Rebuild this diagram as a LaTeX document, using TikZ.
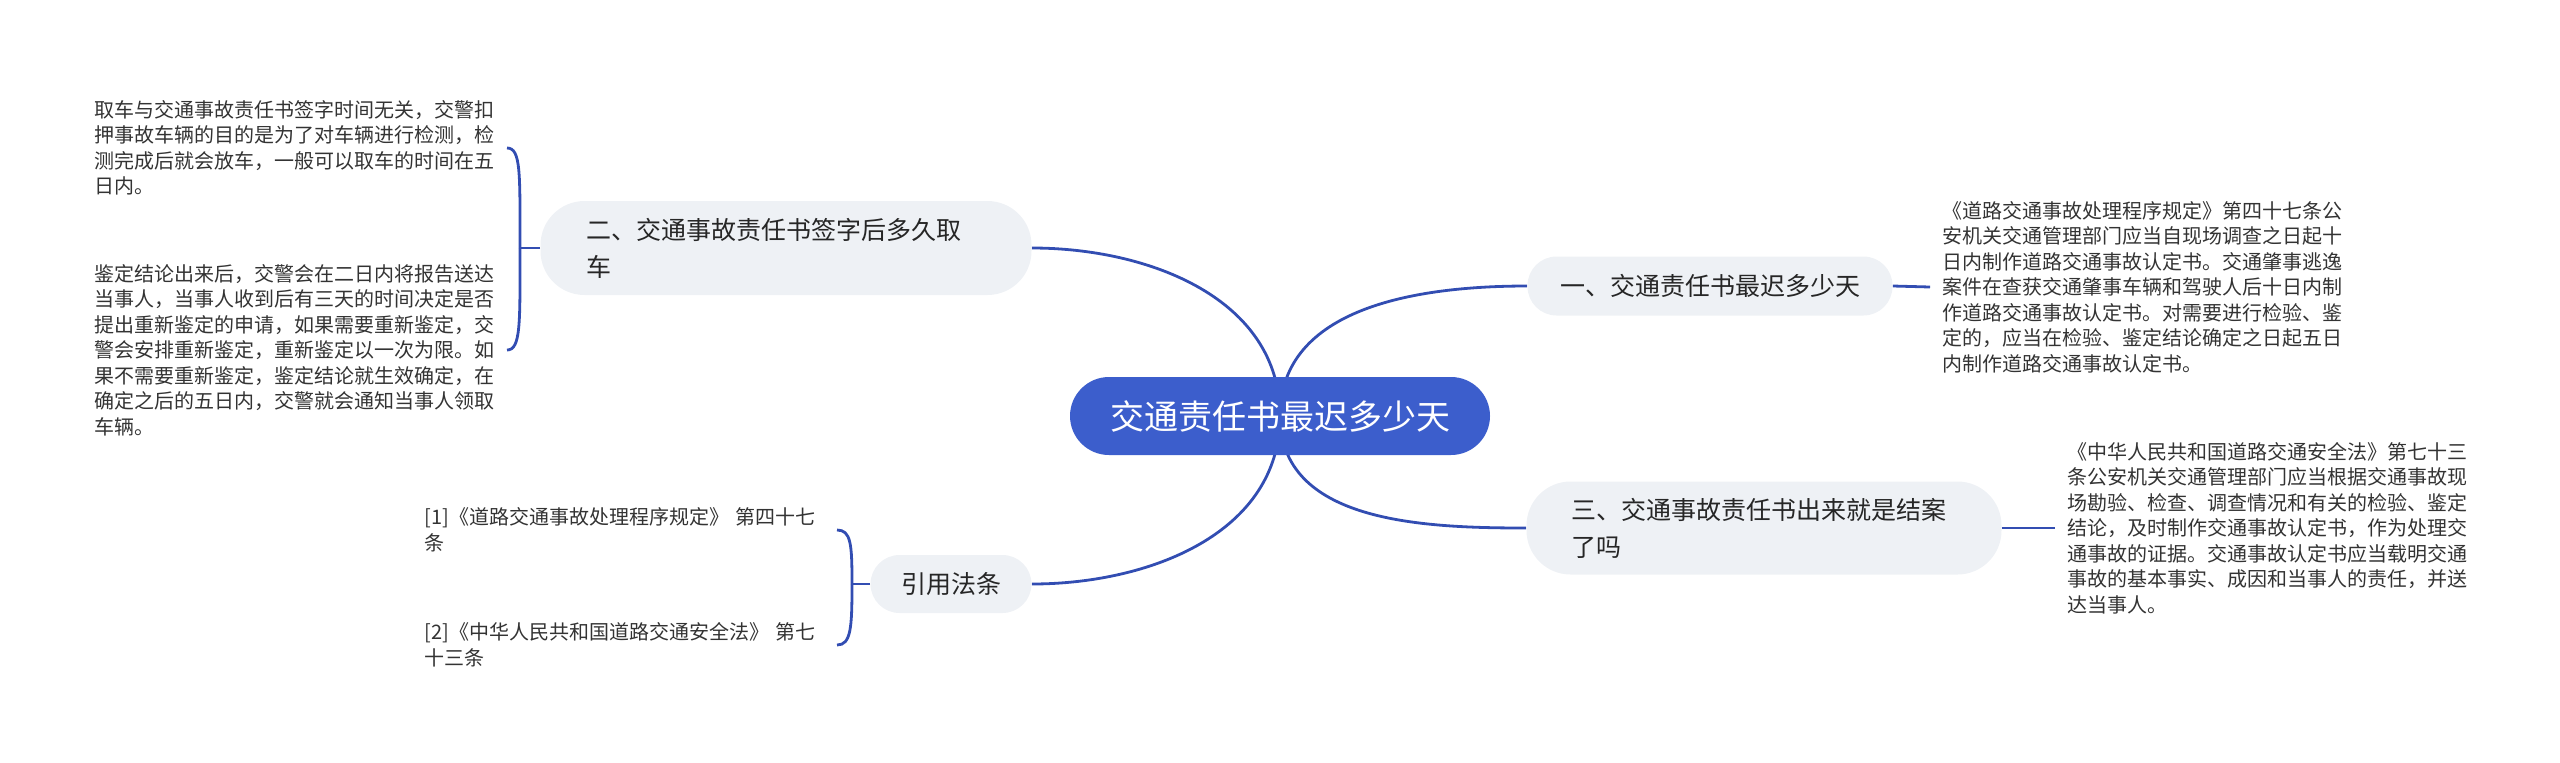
\documentclass[tikz,border=0pt]{standalone}
\usepackage{fontspec}
\setmainfont{Noto Sans CJK SC}
\usetikzlibrary{positioning, backgrounds}
\definecolor{rootblue}{RGB}{60, 94, 204}
\definecolor{linkblue}{RGB}{50, 77, 178}
\definecolor{topicgrey}{RGB}{238, 241, 245}
\definecolor{notegrey}{RGB}{51, 51, 51}

\begin{document}
\begin{tikzpicture}[
  x=0.5pt, y=-0.5pt,
  rootbox/.style={fill=rootblue, text=white, rounded corners=19.5pt, minimum width=210pt, minimum height=39pt, inner sep=0pt, font=\fontsize{17pt}{20pt}\selectfont},
  topicbox/.style={fill=topicgrey, text=black!85, rounded corners=14.5pt, align=left, inner xsep=15pt, inner ysep=6pt, font=\fontsize{12.5pt}{18.5pt}\selectfont},
  notetext/.style={text=notegrey, text width=200pt, align=left, inner xsep=6pt, inner ysep=0pt, font=\fontsize{10pt}{12.75pt}\selectfont},
  link/.style={draw=linkblue, line width=1.4pt}
]
  \useasboundingbox (0,0) rectangle (2560,762);

  % centre and main topics
  \node[rootbox] (root) at (1280,416) {交通责任书最迟多少天};
  \node[topicbox, minimum width=182.5pt, minimum height=29.5pt] (topicone) at (1710,286) {一、交通责任书最迟多少天};
  \node[topicbox, text width=199.5pt, inner xsep=23pt, minimum height=47pt, rounded corners=22pt] (topictwo) at (786,248) {二、交通事故责任书签字后多久取\\车};
  \node[topicbox, text width=192.5pt, inner xsep=22.5pt, minimum height=46.5pt, rounded corners=22pt] (topicthree) at (1764,528) {三、交通事故责任书出来就是结案\\了吗};
  \node[topicbox, minimum width=80.5pt, minimum height=29pt] (topiccite) at (951,584) {引用法条};

  % notes
  \node[notetext, anchor=west] (noteone) at (1930,287) {《道路交通事故处理程序规定》第四十七条公\\安机关交通管理部门应当自现场调查之日起十\\日内制作道路交通事故认定书。交通肇事逃逸\\案件在查获交通肇事车辆和驾驶人后十日内制\\作道路交通事故认定书。对需要进行检验、鉴\\定的，应当在检验、鉴定结论确定之日起五日\\内制作道路交通事故认定书。};
  \node[notetext, anchor=west] (notethree) at (2055,528) {《中华人民共和国道路交通安全法》第七十三\\条公安机关交通管理部门应当根据交通事故现\\场勘验、检查、调查情况和有关的检验、鉴定\\结论，及时制作交通事故认定书，作为处理交\\通事故的证据。交通事故认定书应当载明交通\\事故的基本事实、成因和当事人的责任，并送\\达当事人。};
  \node[notetext, anchor=east] (notetwoa) at (507,148) {取车与交通事故责任书签字时间无关，交警扣\\押事故车辆的目的是为了对车辆进行检测，检\\测完成后就会放车，一般可以取车的时间在五\\日内。};
  \node[notetext, anchor=east] (notetwob) at (507,350) {鉴定结论出来后，交警会在二日内将报告送达\\当事人，当事人收到后有三天的时间决定是否\\提出重新鉴定的申请，如果需要重新鉴定，交\\警会安排重新鉴定，重新鉴定以一次为限。如\\果不需要重新鉴定，鉴定结论就生效确定，在\\确定之后的五日内，交警就会通知当事人领取\\车辆。};
  \node[notetext, anchor=east] (citeone) at (837,530) {[1]《道路交通事故处理程序规定》 第四十七\\条};
  \node[notetext, anchor=east] (citetwo) at (837,645) {[2]《中华人民共和国道路交通安全法》 第七\\十三条};

  \coordinate (jointwo) at (520,248);
  \coordinate (jointcite) at (852,584);

  % connectors
  \begin{scope}[on background layer]
    \draw[link] (root.center) to[out=90, in=180] (topicone.west);
    \draw[link] (root.center) to[out=-90, in=180] (topicthree.west);
    \draw[link] (root.center) to[out=90, in=0] (topictwo.east);
    \draw[link] (root.center) to[out=-90, in=0] (topiccite.east);
  \end{scope}
  \draw[link] (topicone.east) -- (noteone.west);
  \draw[link] (topicthree.east) -- (notethree.west);
  \draw[link] (topictwo.west) -- (jointwo);
  \draw[link] (jointwo) .. controls +(0,-75) and +(14,0) .. (notetwoa.east);
  \draw[link] (jointwo) .. controls +(0,75) and +(14,0) .. (notetwob.east);
  \draw[link] (topiccite.west) -- (jointcite);
  \draw[link] (jointcite) .. controls +(0,-40) and +(14,0) .. (citeone.east);
  \draw[link] (jointcite) .. controls +(0,44) and +(14,0) .. (citetwo.east);
\end{tikzpicture}
\end{document}
